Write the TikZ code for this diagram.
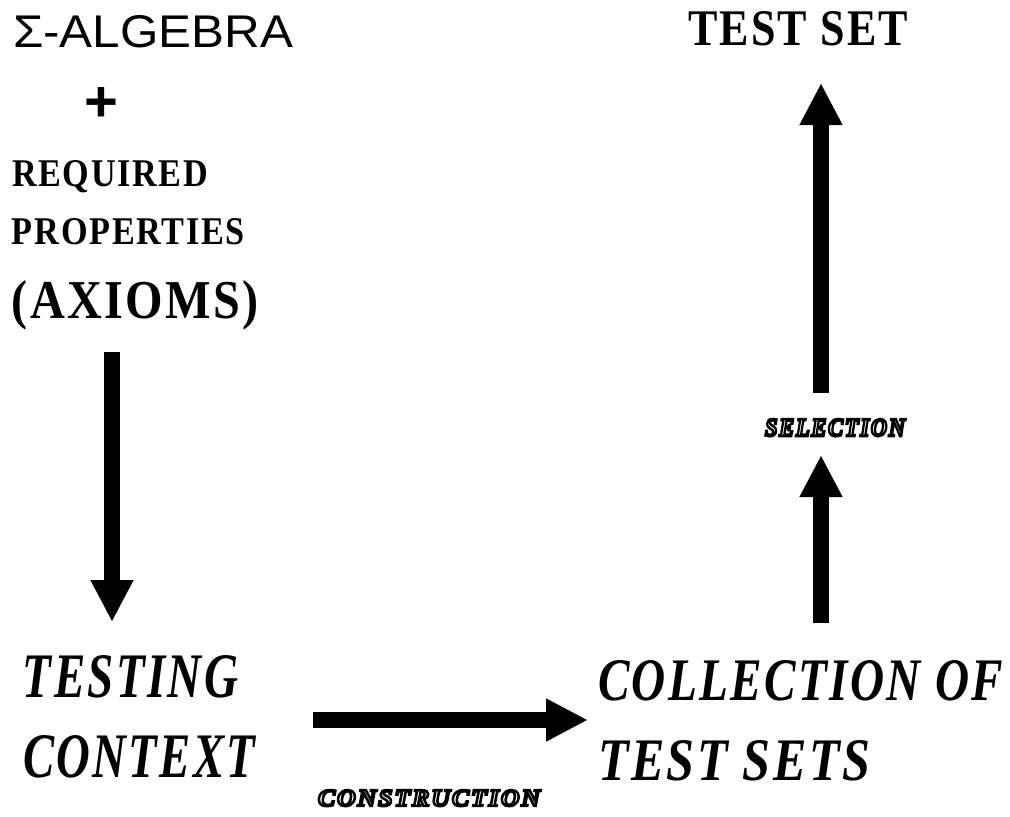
\documentclass[tikz,border=0pt]{standalone}
\usepackage{fontspec}
\usepackage{graphicx}
\setmainfont{Liberation Serif}
\newfontfamily\sansf{Liberation Sans}
\newfontfamily\spaced[LetterSpace=5]{Liberation Serif}
\newfontfamily\outlinefont[LetterSpace=8,FakeBold=10]{Liberation Serif}
\usetikzlibrary{arrows.meta}
\newcommand\fitbox[3]{\resizebox{#1pt}{#2pt}{#3}}
% white letters with a thick black outline: fill white, stroke black
\newcommand\outlined[1]{\special{pdf:bcolor [1] [0]}#1\special{pdf:ecolor}}
\tikzset{
  lbl/.style={anchor=base west, inner sep=0pt, outer sep=0pt, text=black},
  bigarrow/.style={line width=16pt, -{Triangle[length=42pt,width=40pt]}},
  deco/.style={lbl, font=\outlinefont\bfseries\itshape}
}
\begin{document}
\begin{tikzpicture}[x=1pt,y=-1pt]
\useasboundingbox (0,0) rectangle (1010,817);
\fill[white] (0,0) rectangle (1010,817);
% texts
\node[lbl] (sigma) at (13,47) {\fitbox{280}{32}{\sansf Σ-ALGEBRA}};
\node[inner sep=0pt, font=\sansf\bfseries\fontsize{58}{58}\selectfont] (plus) at (101,104) {+};
\node[lbl] (req) at (12,186) {\fitbox{196}{26}{\spaced\bfseries REQUIRED}};
\node[lbl] (prop) at (12,244) {\fitbox{233}{26}{\spaced\bfseries PROPERTIES}};
\node[lbl] (axioms) at (12,318) {\fitbox{247}{38}{\spaced\bfseries (AXIOMS)}};
\node[lbl] (testset) at (688,45) {\fitbox{220}{34}{\spaced\bfseries TEST SET}};
\node[lbl] (testing) at (23,697) {\fitbox{215}{42}{\spaced\bfseries\itshape TESTING}};
\node[lbl] (context) at (23,777) {\fitbox{232}{42}{\spaced\bfseries\itshape CONTEXT}};
\node[lbl] (collection) at (598,700) {\fitbox{405}{40}{\spaced\bfseries\itshape COLLECTION OF}};
\node[lbl] (testsets) at (598,780) {\fitbox{272}{40}{\spaced\bfseries\itshape TEST SETS}};
\node[deco] (construction) at (318,806) {\fitbox{222}{16}{\outlined{CONSTRUCTION}}};
\node[deco] (selection) at (765,436) {\fitbox{140}{17}{\outlined{SELECTION}}};
% arrow end points
\coordinate (d1) at (112,352);
\coordinate (d2) at (112,622);
\coordinate (h1) at (313,720);
\coordinate (h2) at (588,720);
\coordinate (u1) at (821,623);
\coordinate (u2) at (821,455);
\coordinate (v1) at (821,393);
\coordinate (v2) at (821,83);
\draw[bigarrow] (d1) -- (d2);
\draw[bigarrow] (h1) -- (h2);
\draw[bigarrow] (u1) -- (u2);
\draw[bigarrow] (v1) -- (v2);
\end{tikzpicture}
\end{document}
